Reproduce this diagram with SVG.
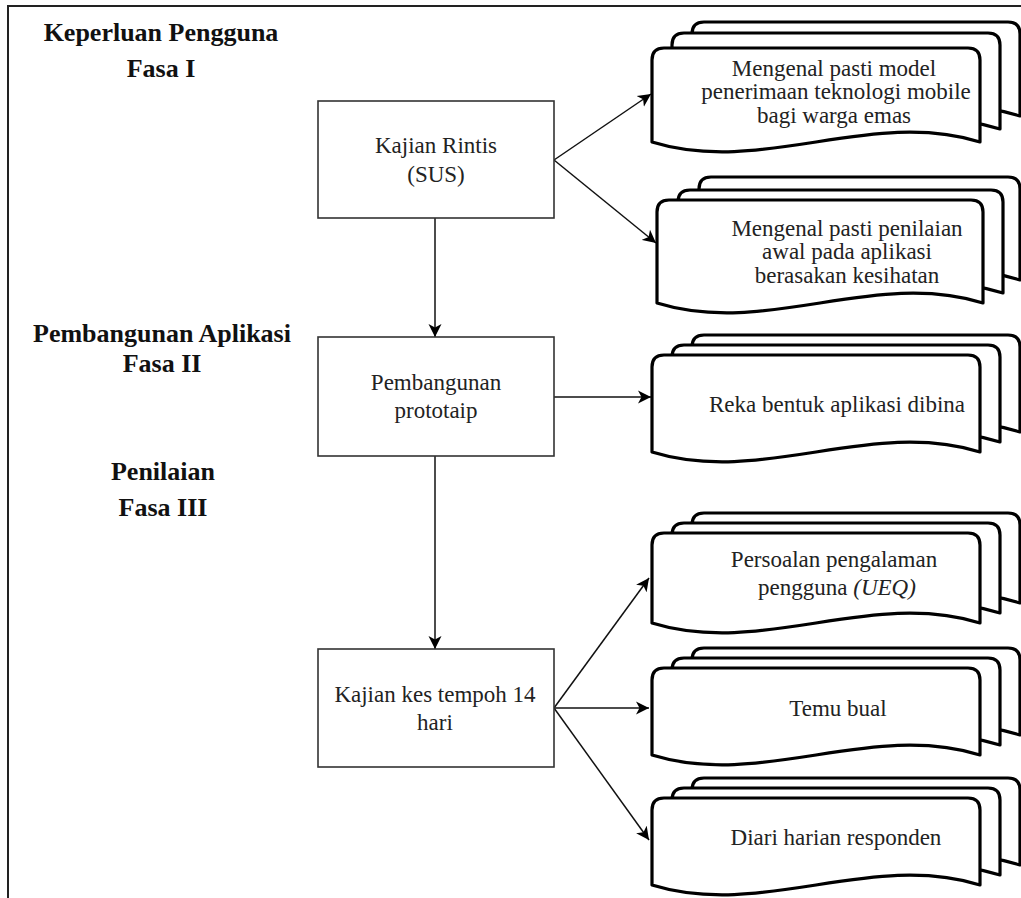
<svg xmlns="http://www.w3.org/2000/svg" width="1021" height="898" viewBox="0 0 1021 898">
<style>
.title{font-family:"Liberation Serif","Times New Roman",serif;font-weight:bold;font-size:26px;fill:#111;text-anchor:middle}
.lbl{font-family:"Liberation Serif","Times New Roman",serif;font-size:23px;fill:#222;text-anchor:middle}
.box{fill:#fff;stroke:#333;stroke-width:1.6}
.doc{fill:#fff;stroke:#000;stroke-width:3.2;stroke-linejoin:round}
.edge{fill:none;stroke:#111;stroke-width:1.5}
</style>
<defs>
<marker id="arr" markerUnits="userSpaceOnUse" markerWidth="16" markerHeight="14" refX="13" refY="7" orient="auto">
<path d="M0,0.5 L13,7 L0,13.5 L3.5,7 Z" fill="#000"/>
</marker>
</defs>
<rect width="1021" height="898" fill="#fff"/>
<path d="M8,898 V6 H1021" fill="none" stroke="#222" stroke-width="2"/>

<g id="titles">
<text class="title" x="161" y="41">Keperluan Pengguna</text>
<text class="title" x="161" y="77">Fasa I</text>
<text class="title" x="162" y="342">Pembangunan Aplikasi</text>
<text class="title" x="162" y="372">Fasa II</text>
<text class="title" x="163" y="480">Penilaian</text>
<text class="title" x="163" y="516">Fasa III</text>
</g>

<g id="connectors">
<path class="edge" d="M435,218 V337" marker-end="url(#arr)"/>
<path class="edge" d="M435,456 V649" marker-end="url(#arr)"/>
<path class="edge" d="M554,160 L651,94" marker-end="url(#arr)"/>
<path class="edge" d="M554,160 L656,243" marker-end="url(#arr)"/>
<path class="edge" d="M554,397 L651,397" marker-end="url(#arr)"/>
<path class="edge" d="M554,708 L649,578" marker-end="url(#arr)"/>
<path class="edge" d="M554,708 L649,708" marker-end="url(#arr)"/>
<path class="edge" d="M554,708 L649,840" marker-end="url(#arr)"/>
</g>

<g id="box-rintis">
<rect class="box" x="318" y="101" width="236" height="117"/>
<text class="lbl" x="436" y="153">Kajian Rintis</text>
<text class="lbl" x="436" y="182">(SUS)</text>
</g>
<g id="box-prototaip">
<rect class="box" x="318" y="337" width="236" height="119"/>
<text class="lbl" x="436" y="390">Pembangunan</text>
<text class="lbl" x="436" y="418">prototaip</text>
</g>
<g id="box-kes">
<rect class="box" x="318" y="649" width="236" height="118"/>
<text class="lbl" x="435" y="702">Kajian kes tempoh 14</text>
<text class="lbl" x="435" y="730">hari</text>
</g>

<g id="doc-model">
<path class="doc" d="M692,34 Q692,22 704,22 H1008 Q1020,22 1020,34 V116 C910,82 802,150 692,116 Z"/>
<path class="doc" d="M672,45 Q672,33 684,33 H988 Q1000,33 1000,45 V129 C890,95 782,163 672,129 Z"/>
<path class="doc" d="M652,60 Q652,48 664,48 H968 Q980,48 980,60 V142 C870,108 762,176 652,142 Z"/>
<text class="lbl" x="834" y="76">Mengenal pasti model</text>
<text class="lbl" x="836" y="99">penerimaan teknologi mobile</text>
<text class="lbl" x="834" y="123">bagi warga emas</text>
</g>

<g id="doc-penilaian">
<path class="doc" d="M699,189 Q699,177 711,177 H1008 Q1020,177 1020,189 V280 C910,246 809,314 699,280 Z"/>
<path class="doc" d="M678,202 Q678,190 690,190 H991 Q1003,190 1003,202 V293 C893,259 788,327 678,293 Z"/>
<path class="doc" d="M657,212 Q657,200 669,200 H971 Q983,200 983,212 V303 C873,269 767,337 657,303 Z"/>
<text class="lbl" x="847" y="236">Mengenal pasti penilaian</text>
<text class="lbl" x="847" y="259">awal pada aplikasi</text>
<text class="lbl" x="847" y="283">berasakan kesihatan</text>
</g>

<g id="doc-reka">
<path class="doc" d="M692,347 Q692,335 704,335 H1008 Q1020,335 1020,347 V432 C910,398 802,466 692,432 Z"/>
<path class="doc" d="M672,357 Q672,345 684,345 H988 Q1000,345 1000,357 V442 C890,408 782,476 672,442 Z"/>
<path class="doc" d="M652,367 Q652,355 664,355 H968 Q980,355 980,367 V452 C870,418 762,486 652,452 Z"/>
<text class="lbl" x="837" y="412">Reka bentuk aplikasi dibina</text>
</g>

<g id="doc-ueq">
<path class="doc" d="M692,525 Q692,513 704,513 H1008 Q1020,513 1020,525 V603 C910,569 802,637 692,603 Z"/>
<path class="doc" d="M672,535 Q672,523 684,523 H988 Q1000,523 1000,535 V613 C890,579 782,647 672,613 Z"/>
<path class="doc" d="M652,545 Q652,533 664,533 H968 Q980,533 980,545 V623 C870,589 762,657 652,623 Z"/>
<text class="lbl" x="834" y="567">Persoalan pengalaman</text>
<text class="lbl" x="837" y="595">pengguna <tspan font-style="italic">(UEQ)</tspan></text>
</g>

<g id="doc-temu">
<path class="doc" d="M692,660 Q692,648 704,648 H1008 Q1020,648 1020,660 V735 C910,701 802,769 692,735 Z"/>
<path class="doc" d="M672,670 Q672,658 684,658 H988 Q1000,658 1000,670 V745 C890,711 782,779 672,745 Z"/>
<path class="doc" d="M652,680 Q652,668 664,668 H968 Q980,668 980,680 V755 C870,721 762,789 652,755 Z"/>
<text class="lbl" x="838" y="716">Temu bual</text>
</g>

<g id="doc-diari">
<path class="doc" d="M692,790 Q692,778 704,778 H1008 Q1020,778 1020,790 V865 C910,831 802,899 692,865 Z"/>
<path class="doc" d="M672,800 Q672,788 684,788 H988 Q1000,788 1000,800 V875 C890,841 782,909 672,875 Z"/>
<path class="doc" d="M652,810 Q652,798 664,798 H968 Q980,798 980,810 V885 C870,851 762,919 652,885 Z"/>
<text class="lbl" x="836" y="845">Diari harian responden</text>
</g>
</svg>
